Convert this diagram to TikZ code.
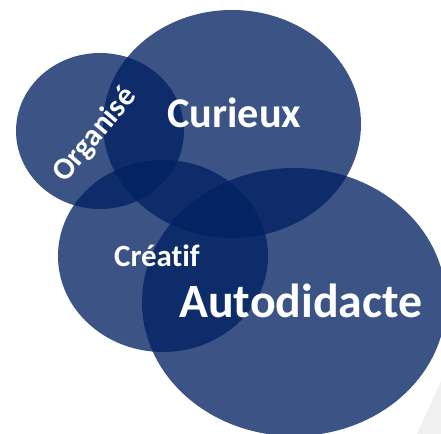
\documentclass[tikz,border=0pt]{standalone}
\usepackage{fontspec}
\setmainfont{Carlito}[Ligatures=NoCommon, RawFeature={-liga;-clig;-dlig}]
\definecolor{navy}{RGB}{0,32,96}
\definecolor{wedge}{RGB}{240,240,240}
\tikzset{
  bubble/.style={fill=navy, fill opacity=0.77, draw=none},
  lbl/.style={text=white, font=\bfseries, inner sep=0pt, anchor=base west}
}
\begin{document}
\begin{tikzpicture}[x=1bp,y=-1bp]
\useasboundingbox (0,0) rectangle (441,434);
\fill[wedge] (417,434) -- (441,381) -- (441,434) -- cycle;
\fill[bubble] (100,131) ellipse [x radius=84, y radius=78];
\fill[bubble] (232,124) ellipse [x radius=129, y radius=114];
\fill[bubble] (163,256) ellipse [x radius=105, y radius=96];
\fill[bubble] (294,302) ellipse [x radius=152, y radius=134];
\node[lbl, font=\bfseries\fontsize{42.5}{42.5}\selectfont] (cur) at (167,128) {Curieux};
\node[lbl, font=\bfseries\fontsize{31}{31}\selectfont] (cre) at (114,266) {Créat\kern0pt if};
\node[lbl, font=\bfseries\fontsize{48}{48}\selectfont] (aut) at (179,317) {Autodidacte};
\node[text=white, inner sep=0pt, rotate=50, font=\bfseries\fontsize{31}{31}\selectfont] (org) at (95,135) {Organisé};
\end{tikzpicture}
\end{document}
